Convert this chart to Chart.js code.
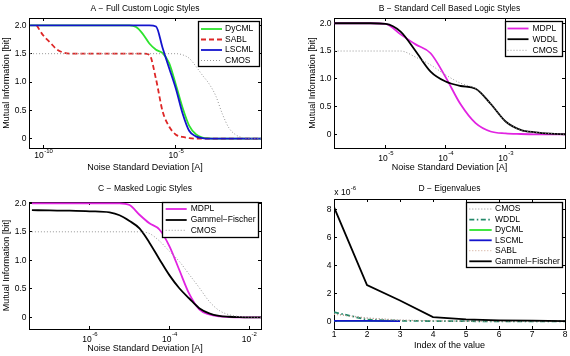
<!DOCTYPE html>
<html lang="en">
<head>
<meta charset="UTF-8">
<title>Mutual Information vs Noise</title>
<script src="https://cdn.jsdelivr.net/npm/chart.js"></script>
<style>
    body { margin: 0; background: #fff; width: 570px; height: 356px; overflow: hidden; position: relative; }
    canvas { position: absolute; }
</style>
</head>
<body>
<canvas id="chartA" width="285" height="178" style="left:0;top:0"></canvas>
<canvas id="chartB" width="285" height="178" style="left:285px;top:0"></canvas>
<canvas id="chartC" width="285" height="178" style="left:0;top:178px"></canvas>
<canvas id="chartD" width="295" height="178" style="left:285px;top:178px"></canvas>

<script>
// ---- data (noise given as log10 of the standard deviation in A) ----

// A - full custom logic styles
const noiseExpA = [-10.5, -10.25, -10, -9.75, -9.5, -9.25, -9, -8.5, -8, -7.5, -7, -6.75, -6.5, -6.25, -6, -5.75,
    -5.5, -5.25, -5, -4.75, -4.5, -4.25, -4, -3.75, -3.5, -3.25, -3, -2.75, -2.5, -2.25, -2, -1.75];
const dycmlA = [2, 2, 2, 2, 2, 2, 2, 2, 2, 2, 2, 2, 1.97, 1.85, 1.68, 1.57,
    1.51, 1.33, 0.95, 0.55, 0.23, 0.08, 0.02, 0.005, 0, 0, 0, 0, 0, 0, 0, 0];
const sablA = [null, 2, 1.82, 1.70, 1.58, 1.52, 1.5, 1.5, 1.5, 1.5, 1.5, 1.5, 1.5, 1.5, 1.48, 1.05,
    0.48, 0.21, 0.07, 0.03, 0.01, 0, 0, 0, 0, 0, 0, 0, 0, 0, 0, 0];
const lscmlA = [2, 2, 2, 2, 2, 2, 2, 2, 2, 2, 2, 2, 2, 2, 2, 1.98,
    1.6, 1.24, 0.88, 0.45, 0.14, 0.04, 0.01, 0, 0, 0, 0, 0, 0, 0, 0, 0];
const cmosA = [1.5, 1.5, 1.5, 1.5, 1.5, 1.5, 1.5, 1.5, 1.5, 1.5, 1.5, 1.5, 1.5, 1.5, 1.5, 1.5,
    1.5, 1.5, 1.5, 1.48, 1.42, 1.28, 1.12, 0.97, 0.76, 0.44, 0.19, 0.07, 0.02, 0.003, 0, 0];

// B - standard cell based logic styles
const noiseExpB = [-5.85, -5.5, -5.25, -5, -4.75, -4.5, -4.25, -4, -3.75, -3.5, -3.25, -3, -2.75, -2.5, -2.25, -2];
const mdplB = [2, 2, 2, 1.99, 1.80, 1.62, 1.46, 1.03, 0.54, 0.20, 0.05, 0.015, 0.005, 0, 0, 0];
const wddlB = [2, 2, 2, 1.99, 1.85, 1.50, 1.13, 0.95, 0.87, 0.82, 0.55, 0.23, 0.08, 0.035, 0.012, 0];
const cmosB = [1.5, 1.5, 1.5, 1.5, 1.5, 1.39, 1.25, 1.07, 0.92, 0.82, 0.55, 0.23, 0.08, 0.035, 0.012, 0];

// C - masked logic styles
const noiseExpC = [-7.45, -7, -6.5, -6, -5.5, -5.25, -5, -4.75, -4.5, -4.25, -4, -3.75, -3.5, -3.25, -3, -2.75,
    -2.5, -2.25, -2, -1.7];
const mdplC = [2, 2, 2, 2, 2, 2, 1.97, 1.80, 1.65, 1.54, 1.25, 0.83, 0.41, 0.14, 0.05, 0.015, 0.005, 0, 0, 0];
const gammelC = [1.88, 1.875, 1.87, 1.86, 1.84, 1.79, 1.69, 1.56, 1.31, 1.02, 0.74, 0.51, 0.33, 0.16, 0.07, 0.025,
    0.01, 0.003, 0, 0];
const cmosC = [1.5, 1.5, 1.5, 1.5, 1.5, 1.5, 1.5, 1.5, 1.47, 1.34, 1.16, 0.98, 0.75, 0.52, 0.28, 0.12,
    0.045, 0.015, 0.005, 0];

// D - eigenvalues (in units of 1e-6)
const eigIndex = [1, 2, 3, 4, 5, 6, 7, 8];
const eigCmos = [0.55, 0.25, 0.1, 0.04, 0.02, 0.01, 0.005, 0.002];
const eigWddl = [0.66, 0.12, 0.04, 0.02, 0.01, 0.005, 0.003, 0.001];
const eigDycml = [0.04, 0.03, 0.02];
const eigLscml = [0.04, 0.03, 0.02];
const eigSabl = [0.5, 0.22, 0.08, 0.03, 0.01, 0.005, 0.002, 0.001];
const eigGammel = [8.2, 2.6, 1.5, 0.3, 0.14, 0.07, 0.05, 0.02];

const miTicks = [0, 0.5, 1, 1.5, 2];

// ---- styles ----
const fontFamily = '"Liberation Sans", Arial, Helvetica, sans-serif';
Chart.defaults.font.family = fontFamily;
Chart.defaults.font.size = 8.5;
Chart.defaults.color = '#000';
Chart.defaults.animation = false;
Chart.defaults.plugins.legend.display = false;
Chart.defaults.plugins.tooltip.enabled = false;
Chart.defaults.elements.point.radius = 0;

const GREEN = 'rgb(45,228,45)';
const RED = 'rgb(222,38,38)';
const BLUE = 'rgb(20,20,205)';
const GRAY = 'rgb(150,150,150)';
const MAGENTA = 'rgb(225,35,225)';
const BLACK = '#000';
const TEAL = 'rgb(35,135,105)';
const SALMON = 'rgb(205,160,140)';

function logPoints(exps, vals) {
    return vals.map((v, i) => ({ x: Math.pow(10, exps[i]), y: v })).filter(p => p.y !== null);
}
function points(xs, vals) {
    return vals.map((v, i) => ({ x: xs[i], y: v }));
}

function line(label, data, color, kind, i) {
    const ds = { label: label, data: data, borderColor: color, borderWidth: 1.8, fill: false,
        xAxisID: 'x', yAxisID: 'y', order: -i };
    if (kind === 'dash') ds.borderDash = [5, 3];
    if (kind === 'dot') { ds.borderDash = [1, 2]; ds.borderWidth = 1; }
    if (kind === 'dashdot') ds.borderDash = [5, 2.5, 1.5, 2.5];
    return ds;
}

// a matlab like box: ticks inside on all four sides
function boxAxes(a) {
    const setTicks = list => s => { s.ticks = list.map(v => ({ value: v })); };
    const grid = { drawOnChartArea: false, tickLength: -3, color: '#000', lineWidth: 1 };
    const border = { color: '#000', width: 1 };
    return {
        x: {
            type: a.xType, axis: 'x', position: 'bottom', min: a.xMin, max: a.xMax,
            afterBuildTicks: setTicks(a.xTicks),
            afterFit: s => { s.height = a.xHeight; },
            grid: grid, border: border,
            ticks: { display: a.xType === 'linear', padding: 3.6, maxRotation: 0, autoSkip: false },
            title: { display: true, text: a.xTitle, font: { size: 9 }, padding: { top: 0, bottom: a.xTitlePad } }
        },
        xTop: {
            type: a.xType, axis: 'x', position: 'top', min: a.xMin, max: a.xMax,
            afterBuildTicks: setTicks(a.xTicks),
            afterFit: s => { s.height = 0; },
            grid: grid, border: border, ticks: { display: false }
        },
        y: {
            type: 'linear', axis: 'y', position: 'left', min: a.yMin, max: a.yMax,
            afterBuildTicks: setTicks(a.yTicks),
            afterFit: s => { s.width = a.yWidth; },
            grid: grid, border: border,
            ticks: { padding: 5.5 },
            title: { display: !!a.yTitle, text: a.yTitle || '', font: { size: 9 },
                padding: { top: a.yTitlePad || 0, bottom: 0 } }
        },
        yRight: {
            type: 'linear', axis: 'y', position: 'right', min: a.yMin, max: a.yMax,
            afterBuildTicks: setTicks(a.yTicks),
            afterFit: s => { s.width = 0; },
            grid: grid, border: border, ticks: { display: false }
        }
    };
}

// legend drawn as a white box inside the plot
const boxLegend = {
    id: 'boxLegend',
    afterDatasetsDraw(chart, args, o) {
        const ctx = chart.ctx;
        ctx.save();
        ctx.fillStyle = '#fff';
        ctx.fillRect(o.x, o.y, o.w, o.h);
        ctx.lineWidth = 1.3;
        ctx.strokeStyle = '#000';
        ctx.strokeRect(o.x + 0.5, o.y + 0.5, o.w, o.h);
        chart.data.datasets.forEach((ds, i) => {
            const ry = o.rows[i];
            ctx.beginPath();
            ctx.setLineDash(ds.borderDash || []);
            ctx.lineWidth = ds.borderWidth;
            ctx.strokeStyle = ds.borderColor;
            ctx.moveTo(o.lx1, ry);
            ctx.lineTo(o.lx2, ry);
            ctx.stroke();
            ctx.setLineDash([]);
            ctx.fillStyle = '#000';
            ctx.font = '8.5px ' + fontFamily;
            ctx.textBaseline = 'middle';
            ctx.textAlign = 'left';
            ctx.fillText(ds.label, o.tx, ry);
        });
        ctx.restore();
    }
};

// 10^n labels under log axes, and the "x 10^-6" factor
const powerLabels = {
    id: 'powerLabels',
    afterDraw(chart, args, o) {
        const ctx = chart.ctx;
        ctx.save();
        ctx.fillStyle = '#000';
        ctx.textBaseline = 'middle';
        ctx.textAlign = 'left';
        if (o.baseY) {
            const sc = chart.scales.x;
            sc.ticks.forEach(t => {
                const e = String(Math.round(Math.log10(t.value)));
                ctx.font = '8.5px ' + fontFamily;
                const wBase = ctx.measureText('10').width;
                ctx.font = '6px ' + fontFamily;
                const wExp = ctx.measureText(e).width;
                const x0 = sc.getPixelForValue(t.value) - (wBase + wExp) / 2;
                ctx.font = '8.5px ' + fontFamily;
                ctx.fillText('10', x0, o.baseY);
                ctx.font = '6px ' + fontFamily;
                ctx.fillText(e, x0 + wBase + 0.5, o.baseY - o.rise);
            });
        }
        if (o.factor) {
            ctx.font = '8.5px ' + fontFamily;
            ctx.fillText('x 10', o.factor.x, o.factor.y);
            const w = ctx.measureText('x 10').width;
            ctx.font = '6px ' + fontFamily;
            ctx.fillText(o.factor.exp, o.factor.x + w + 0.5, o.factor.y - 5);
        }
        ctx.restore();
    }
};

function titleOpts(text, top, bottom) {
    return { display: true, text: text, fullSize: false, color: '#000',
        font: { size: 8.5, weight: 'normal', lineHeight: 1.2 }, padding: { top: top, bottom: bottom } };
}

// A
new Chart(document.getElementById('chartA'), {
    type: 'line',
    data: {
        datasets: [
            line('DyCML', logPoints(noiseExpA, dycmlA), GREEN, 'solid', 0),
            line('SABL', logPoints(noiseExpA, sablA), RED, 'dash', 1),
            line('LSCML', logPoints(noiseExpA, lscmlA), BLUE, 'solid', 2),
            line('CMOS', logPoints(noiseExpA, cmosA), GRAY, 'dot', 3)
        ]
    },
    options: {
        responsive: false,
        layout: { padding: { left: 0, right: 24, top: 0, bottom: 0 } },
        datasets: { line: { cubicInterpolationMode: 'monotone' } },
        scales: boxAxes({
            xType: 'logarithmic', xMin: Math.pow(10, -10.54), xMax: Math.pow(10, -1.79), xTicks: [1e-10, 1e-5],
            xHeight: 30, xTitle: 'Noise Standard Deviation [A]', xTitlePad: 4.9,
            yMin: -0.165, yMax: 2.13, yTicks: miTicks, yWidth: 29,
            yTitle: 'Mutual Information [bit]', yTitlePad: 1.3
        }),
        plugins: {
            title: titleOpts('A \u2212 Full Custom Logic Styles', 3.2, 4.6),
            boxLegend: { x: 198, y: 21, w: 61, h: 45, rows: [29, 39.5, 50, 60.5], lx1: 201, lx2: 222, tx: 225 },
            powerLabels: { baseY: 156, rise: 5 }
        }
    },
    plugins: [boxLegend, powerLabels]
});

// B
new Chart(document.getElementById('chartB'), {
    type: 'line',
    data: {
        datasets: [
            line('MDPL', logPoints(noiseExpB, mdplB), MAGENTA, 'solid', 0),
            line('WDDL', logPoints(noiseExpB, wddlB), BLACK, 'solid', 1),
            line('CMOS', logPoints(noiseExpB, cmosB), GRAY, 'dot', 2)
        ]
    },
    options: {
        responsive: false,
        layout: { padding: { left: 0, right: 5, top: 0, bottom: 0 } },
        datasets: { line: { cubicInterpolationMode: 'monotone' } },
        scales: boxAxes({
            xType: 'logarithmic', xMin: Math.pow(10, -5.86), xMax: Math.pow(10, -2.01), xTicks: [1e-5, 1e-4, 1e-3],
            xHeight: 30, xTitle: 'Noise Standard Deviation [A]', xTitlePad: 5.3,
            yMin: -0.247, yMax: 2.095, yTicks: miTicks, yWidth: 49,
            yTitle: 'Mutual Information [bit]', yTitlePad: 21.9
        }),
        plugins: {
            title: titleOpts('B \u2212 Standard Cell Based Logic Styles', 3.9, 3.9),
            boxLegend: { x: 220, y: 21, w: 57, h: 35, rows: [28.5, 39.2, 50.3], lx1: 222.5, lx2: 243.5, tx: 247.5 },
            powerLabels: { baseY: 158.5, rise: 5.5 }
        }
    },
    plugins: [boxLegend, powerLabels]
});

// C
new Chart(document.getElementById('chartC'), {
    type: 'line',
    data: {
        datasets: [
            line('MDPL', logPoints(noiseExpC, mdplC), MAGENTA, 'solid', 0),
            line('Gammel\u2212Fischer', logPoints(noiseExpC, gammelC), BLACK, 'solid', 1),
            line('CMOS', logPoints(noiseExpC, cmosC), GRAY, 'dot', 2)
        ]
    },
    options: {
        responsive: false,
        layout: { padding: { left: 0, right: 24, top: 0, bottom: 0 } },
        datasets: { line: { cubicInterpolationMode: 'monotone' } },
        scales: boxAxes({
            xType: 'logarithmic', xMin: Math.pow(10, -7.46), xMax: Math.pow(10, -1.70), xTicks: [1e-6, 1e-4, 1e-2],
            xHeight: 27, xTitle: 'Noise Standard Deviation [A]', xTitlePad: 1.9,
            yMin: -0.205, yMax: 2.023, yTicks: miTicks, yWidth: 29,
            yTitle: 'Mutual Information [bit]', yTitlePad: 1.3
        }),
        plugins: {
            title: titleOpts('C \u2212 Masked Logic Styles', 5.9, 7.9),
            boxLegend: { x: 162, y: 24, w: 96, h: 35, rows: [31, 42, 52.3], lx1: 165.7, lx2: 186.7, tx: 190.7 },
            powerLabels: { baseY: 162, rise: 5.5 }
        }
    },
    plugins: [boxLegend, powerLabels]
});

// D
new Chart(document.getElementById('chartD'), {
    type: 'line',
    data: {
        datasets: [
            line('CMOS', points(eigIndex, eigCmos), GRAY, 'dot', 0),
            line('WDDL', points(eigIndex, eigWddl), TEAL, 'dashdot', 1),
            line('DyCML', points(eigIndex, eigDycml), GREEN, 'solid', 2),
            line('LSCML', points(eigIndex, eigLscml), BLUE, 'solid', 3),
            line('SABL', points(eigIndex, eigSabl), SALMON, 'dot', 4),
            line('Gammel\u2212Fischer', points(eigIndex, eigGammel), BLACK, 'solid', 5)
        ]
    },
    options: {
        responsive: false,
        layout: { padding: { left: 0, right: 15, top: 0, bottom: 0 } },
        datasets: { line: { tension: 0 } },
        scales: boxAxes({
            xType: 'linear', xMin: 1, xMax: 8, xTicks: eigIndex,
            xHeight: 27, xTitle: 'Index of the value', xTitlePad: 5.3,
            yMin: -0.55, yMax: 8.79, yTicks: [0, 2, 4, 6, 8], yWidth: 49
        }),
        plugins: {
            title: titleOpts('D \u2212 Eigenvalues', 5.9, 4.9),
            boxLegend: { x: 181, y: 24, w: 96, h: 65, rows: [31, 41.7, 52, 62.3, 72.7, 83.3], lx1: 184.3, lx2: 206.7, tx: 210 },
            powerLabels: { factor: { x: 49.3, y: 15, exp: '-6' } }
        }
    },
    plugins: [boxLegend, powerLabels]
});
</script>
</body>
</html>
